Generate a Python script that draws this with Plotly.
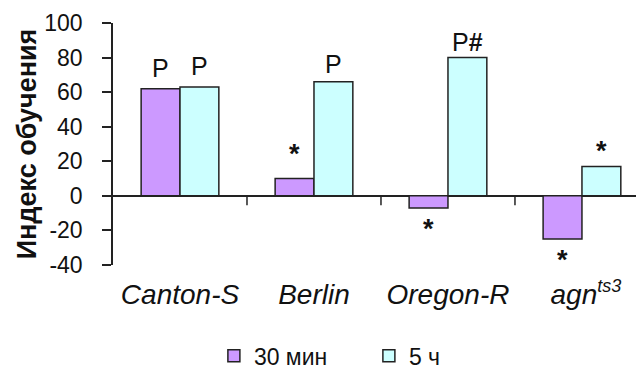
import plotly.graph_objects as go

categories = ["Canton-S", "Berlin", "Oregon-R", "&nbsp;agn<sup><span style='font-size:18px'>ts3</span></sup>"]
series_names = ["30 мин", "5 ч"]
vals_30min = [62, 10, -7, -25]
vals_5h = [63, 66, 80, 17]
marks_30min = ["P", "*", "*", "*"]
marks_5h = ["P", "P", "P<b>#</b>", "*"]
y_ticks = [-40, -20, 0, 20, 40, 60, 80, 100]
y_ticktext = ["-40", "-20", "0", "20", "40", "60", "80", "100"]

FONT = "Liberation Sans, Arial, sans-serif"
colors = ["#CC99FF", "#CCFFFF"]
bw = 0.29
xs = list(range(len(categories)))
shift_30min = [5, 8, -4, -4]
shift_5h = [5, 2, 0, -2]

fig = go.Figure()
fig.add_trace(go.Bar(x=xs, y=vals_30min, name=series_names[0], offset=-bw, width=bw,
                     marker=dict(color=colors[0], line=dict(color="#222", width=1.5))))
fig.add_trace(go.Bar(x=xs, y=vals_5h, name=series_names[1], offset=0, width=bw,
                     marker=dict(color=colors[1], line=dict(color="#222", width=1.5))))


def mark(x, v, m, s):
    if m == "*":
        return dict(x=x, y=v, xref="x", yref="y", text="<b>*</b>",
                    showarrow=False, font=dict(size=27, family=FONT, color="#111"),
                    yanchor="bottom" if v >= 0 else "top", yshift=s)
    return dict(x=x, y=v, xref="x", yref="y", text=m,
                showarrow=False, font=dict(size=25, family=FONT, color="#111"),
                yanchor="bottom", yshift=s)


annotations = []
for i, (v, m) in enumerate(zip(vals_30min, marks_30min)):
    annotations.append(mark(i - bw / 2, v, m, shift_30min[i]))
for i, (v, m) in enumerate(zip(vals_5h, marks_5h)):
    annotations.append(mark(i + bw / 2, v, m, shift_5h[i]))

shapes = []
for i in range(1, len(categories) + 1):
    shapes.append(dict(type="line", xref="x", yref="y", x0=i - 0.5, x1=i - 0.5, y0=0, y1=-5.5,
                       line=dict(color="#222", width=1.5)))

fig.update_layout(
    width=636, height=361,
    margin=dict(l=105, r=0, t=15, b=104, autoexpand=False),
    paper_bgcolor="white", plot_bgcolor="white",
    font=dict(family=FONT, color="#111"),
    barmode="overlay",
    showlegend=True,
    legend=dict(orientation="h", x=0.19, xanchor="left", y=-0.375, yanchor="middle",
                font=dict(size=23, family=FONT), itemwidth=30, entrywidth=110),
    annotations=annotations,
    shapes=shapes,
    xaxis=dict(range=[-0.5, 3.463], tickvals=xs,
               ticktext=["<i>" + c + "</i>" for c in categories],
               tickfont=dict(size=28, family=FONT, color="#111"),
               showline=False, ticks="", showgrid=False, zeroline=False,
               ticklabelstandoff=10),
    yaxis=dict(range=[-40, 100], tickvals=y_ticks, ticktext=y_ticktext, showgrid=False,
               showline=True, linecolor="#222", linewidth=1.5,
               ticks="outside", ticklen=9, tickwidth=1.5, tickcolor="#222",
               tickfont=dict(size=23, family=FONT, color="#111"),
               zeroline=True, zerolinecolor="#222", zerolinewidth=1.5,
               title=dict(text="<b>Индекс обучения</b>", font=dict(size=27, family=FONT, color="#111"),
                          standoff=0),
               ticklabelstandoff=15),
)

fig.write_html("out.html")
